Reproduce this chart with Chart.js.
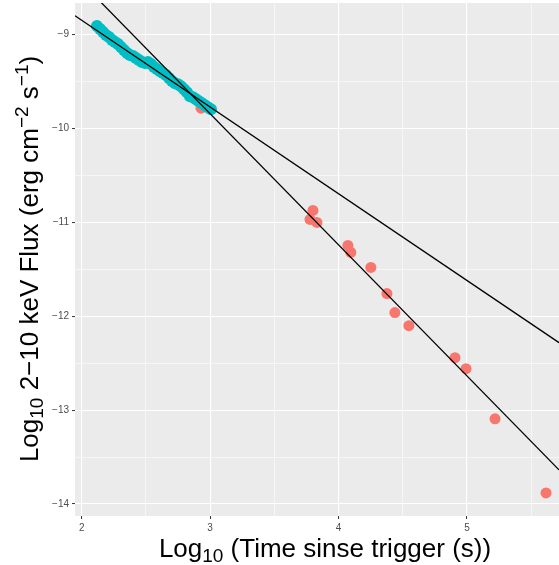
<!DOCTYPE html>
<html lang="en">
  <head>
    <meta charset="UTF-8" />
    <title>Flux vs time</title>
    <style>
      body { margin: 0; background: #fff; }
      #wrap { width: 559px; height: 565px; position: relative; }
    </style>
  </head>
  <body>
    <div id="wrap"><canvas id="chart"></canvas></div>

    <script src="https://cdn.jsdelivr.net/npm/chart.js@4.4.1/dist/chart.umd.min.js"></script>
    <script>
      // early points (cyan)
      var cyanX = [2.119, 2.143, 2.166, 2.189, 2.213, 2.236, 2.259, 2.283, 2.306, 2.329,
        2.353, 2.376, 2.400, 2.423, 2.446, 2.470, 2.493, 2.516, 2.540, 2.563,
        2.586, 2.610, 2.633, 2.657, 2.680, 2.703, 2.727, 2.750, 2.773, 2.797,
        2.820, 2.843, 2.867, 2.890, 2.913, 2.937, 2.960, 2.983, 3.007];
      var cyanY = [-8.907, -8.939, -8.971, -9.003, -9.025, -9.057, -9.078, -9.099, -9.131, -9.163,
        -9.195, -9.217, -9.227, -9.249, -9.270, -9.291, -9.302, -9.291, -9.313, -9.345,
        -9.366, -9.388, -9.409, -9.430, -9.462, -9.494, -9.516, -9.527, -9.548, -9.580,
        -9.612, -9.655, -9.665, -9.687, -9.708, -9.729, -9.751, -9.772, -9.793];

      // late points (red)
      var redX = [2.929, 3.778, 3.801, 3.832, 4.073, 4.096, 4.252, 4.377, 4.439, 4.548,
        4.907, 4.993, 5.219, 5.616];
      var redY = [-9.783, -10.968, -10.872, -11.0, -11.245, -11.32, -11.479, -11.758, -11.961, -12.1,
        -12.441, -12.558, -13.092, -13.882];

      // fitted lines, end points
      var shallowX = [1.948, 5.717];
      var shallowY = [-8.797, -12.281];
      var steepX = [1.948, 5.717];
      var steepY = [-8.372, -13.637];

      var xTicks = [2, 3, 4, 5];
      var yTicks = [-14, -13, -12, -11, -10, -9];

      function pts(xs, ys) {
        return xs.map(function (x, i) { return { x: x, y: ys[i] }; });
      }
      function withHalves(list) {
        var out = [];
        list.forEach(function (v) { out.push(v); out.push(v + 0.5); });
        out.unshift(list[0] - 0.5);
        return out;
      }
      function isMajor(v) { return Math.abs(v - Math.round(v)) < 1e-6; }

      var FONT = '"Liberation Sans", Arial, Helvetica, sans-serif';

      // rich text: segments with sub/superscripts
      function richWidth(ctx, segs, size) {
        var w = 0;
        segs.forEach(function (s) {
          ctx.font = Math.round(size * (s.k || 1)) + "px " + FONT;
          w += ctx.measureText(s.t).width;
        });
        return w;
      }
      function drawRich(ctx, segs, size, x, y) {
        var cx = x;
        segs.forEach(function (s) {
          ctx.font = Math.round(size * (s.k || 1)) + "px " + FONT;
          ctx.fillText(s.t, cx, y + (s.dy || 0));
          cx += ctx.measureText(s.t).width;
        });
      }

      var xTitle = [
        { t: "Log" }, { t: "10", k: 0.72, dy: 5 }, { t: " (Time sinse trigger (s))" }
      ];
      var yTitle = [
        { t: "Log" }, { t: "10", k: 0.72, dy: 5 }, { t: " 2\u221210 keV Flux (erg cm" },
        { t: "\u22122", k: 0.72, dy: -10 }, { t: " s" }, { t: "\u22121", k: 0.72, dy: -10 }, { t: ")" }
      ];

      var panel = {
        id: "panel",
        beforeDraw: function (chart) {
          var c = chart.ctx, a = chart.chartArea;
          c.save();
          c.fillStyle = "#ffffff";
          c.fillRect(0, 0, chart.width, chart.height);
          c.fillStyle = "#EBEBEB";
          c.fillRect(a.left, a.top, a.right - a.left, a.bottom - a.top);
          c.restore();
        },
        afterDraw: function (chart) {
          var c = chart.ctx, size = 26;
          c.save();
          c.fillStyle = "#000000";
          c.textBaseline = "alphabetic";
          var w = richWidth(c, xTitle, size);
          drawRich(c, xTitle, size, 325 - w / 2, 557);
          c.translate(38, 259);
          c.rotate(-Math.PI / 2);
          w = richWidth(c, yTitle, size);
          drawRich(c, yTitle, size, -w / 2, 0);
          c.restore();
        }
      };

      function axis(min, max, ticks, fixSize) {
        return {
          type: "linear",
          min: min,
          max: max,
          afterBuildTicks: function (scale) {
            scale.ticks = withHalves(ticks)
              .filter(function (v) { return v >= min && v <= max; })
              .map(function (v) { return { value: v }; });
          },
          afterFit: function (s) {
            fixSize(s);
            s.paddingLeft = 0; s.paddingRight = 0;
            s.paddingTop = 0; s.paddingBottom = 0;
          },
          border: { display: false },
          grid: {
            color: "#ffffff",
            lineWidth: function (c) { return isMajor(c.tick.value) ? 1.1 : 0.55; },
            tickColor: function (c) { return isMajor(c.tick.value) ? "#333333" : "rgba(0,0,0,0)"; },
            tickWidth: function (c) { return isMajor(c.tick.value) ? 1 : 0; },
            tickLength: 3
          },
          ticks: {
            autoSkip: false,
            maxRotation: 0,
            padding: 3,
            color: "#4D4D4D",
            font: { family: FONT, size: 10 },
            callback: function (v) {
              if (!isMajor(v)) return "";
              var r = Math.round(v);
              return r < 0 ? "\u2212" + Math.abs(r) : String(r);
            }
          }
        };
      }

      var ctx = document.getElementById("chart").getContext("2d");
      var chart = new Chart(ctx, {
        type: "scatter",
        data: {
          datasets: [
            {
              type: "line", data: pts(shallowX, shallowY), borderColor: "#000000",
              borderWidth: 1.3, pointRadius: 0, fill: false, order: 0
            },
            {
              type: "line", data: pts(steepX, steepY), borderColor: "#000000",
              borderWidth: 1.3, pointRadius: 0, fill: false, order: 0
            },
            {
              data: pts(cyanX, cyanY), backgroundColor: "#00BFC4", borderWidth: 0,
              pointRadius: 6, order: 1
            },
            {
              data: pts(redX, redY), backgroundColor: "#F8766D", borderWidth: 0,
              pointRadius: 5.5, order: 2
            }
          ]
        },
        options: {
          responsive: true,
          maintainAspectRatio: false,
          animation: false,
          layout: { autoPadding: false, padding: { top: 3, right: 0, left: 0, bottom: 0 } },
          plugins: { legend: { display: false }, tooltip: { enabled: false } },
          scales: {
            x: axis(1.948, 5.717, xTicks, function (s) { s.height = 49; }),
            y: axis(-14.128, -8.662, yTicks, function (s) { s.width = 75; })
          }
        },
        plugins: [panel]
      });
    </script>
  </body>
</html>
